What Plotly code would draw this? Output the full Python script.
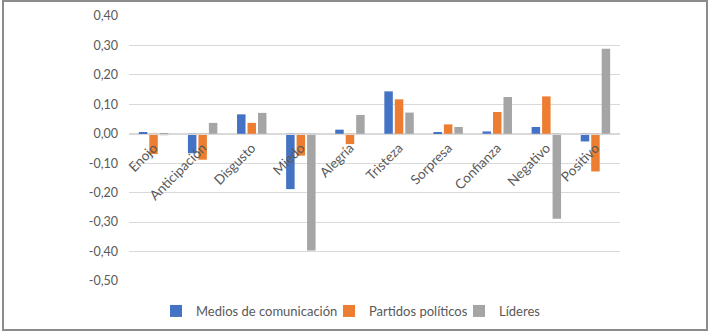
import plotly.graph_objects as go

categories = ["Enojo", "Anticipación", "Disgusto", "Miedo", "Alegría", "Tristeza",
              "Sorpresa", "Confianza", "Negativo", "Positivo"]
medios = [0.003, -0.066, 0.066, -0.188, 0.014, 0.144, 0.005, 0.008, 0.023, -0.026]
partidos = [-0.069, -0.088, 0.037, -0.074, -0.035, 0.117, 0.032, 0.074, 0.127, -0.128]
lideres = [-0.005, 0.037, 0.071, -0.396, 0.064, 0.072, 0.023, 0.125, -0.289, 0.289]
series_names = ["Medios de comunicación", "Partidos políticos", "Líderes"]
colors = ["#4472C4", "#ED7D31", "#A5A5A5"]
ytick_vals = [0.4, 0.3, 0.2, 0.1, 0.0, -0.1, -0.2, -0.3, -0.4, -0.5]
ytick_text = ["0,40", "0,30", "0,20", "0,10", "0,00", "-0,10", "-0,20", "-0,30", "-0,40", "-0,50"]

W, H = 715, 336
L, R, T, B = 129, 95, 16, 55
pw, ph = W - L - R, H - T - B

legend_ids = ["legend", "legend2", "legend3"]
legend_px = [156, 329, 459]

fig = go.Figure()
for name, vals, c, lg in zip(series_names, [medios, partidos, lideres], colors, legend_ids):
    fig.add_trace(go.Bar(x=categories, y=vals, name=name, legend=lg,
                         marker=dict(color=c, line=dict(width=0))))

ymin, ymax = -0.5, 0.4
zero_pos = (0 - ymin) / (ymax - ymin)

font = "Lato, 'Open Sans', sans-serif"
legend_common = dict(orientation="h", xanchor="left", yanchor="middle",
                     y=(H - B - 311) / ph, font=dict(size=13, color="#595959"),
                     itemwidth=30, bgcolor="rgba(0,0,0,0)", borderwidth=0)
fig.update_layout(
    width=W, height=H,
    margin=dict(l=L, r=R, t=T, b=B, autoexpand=False),
    paper_bgcolor="white", plot_bgcolor="white",
    barmode="group", bargap=0.36, bargroupgap=0.19,
    font=dict(family=font, size=12, color="#595959"),
    xaxis=dict(anchor="free", position=zero_pos, showline=True, linecolor="#D9D9D9",
               linewidth=1, tickangle=-45, ticks="", showgrid=False, automargin=False,
               tickfont=dict(size=13.5, color="#595959")),
    yaxis=dict(range=[ymin, ymax], tickvals=ytick_vals, ticktext=ytick_text,
               showgrid=True, gridcolor="#D9D9D9", gridwidth=1, zeroline=False,
               automargin=False,
               ticks="", ticklabelstandoff=10, tickfont=dict(size=12.5, color="#595959")),
    legend=dict(x=(legend_px[0] - L) / pw, **legend_common),
    legend2=dict(x=(legend_px[1] - L) / pw, **legend_common),
    legend3=dict(x=(legend_px[2] - L) / pw, **legend_common),
    showlegend=True,
)

fig.add_shape(type="rect", xref="paper", yref="paper",
              x0=(3 - L) / pw, x1=(707 - L) / pw,
              y0=(H - B - 330) / ph, y1=(H - B - 1) / ph,
              line=dict(color="#8C8C8C", width=2), fillcolor="rgba(0,0,0,0)", layer="below")

fig.write_html("out.html")
